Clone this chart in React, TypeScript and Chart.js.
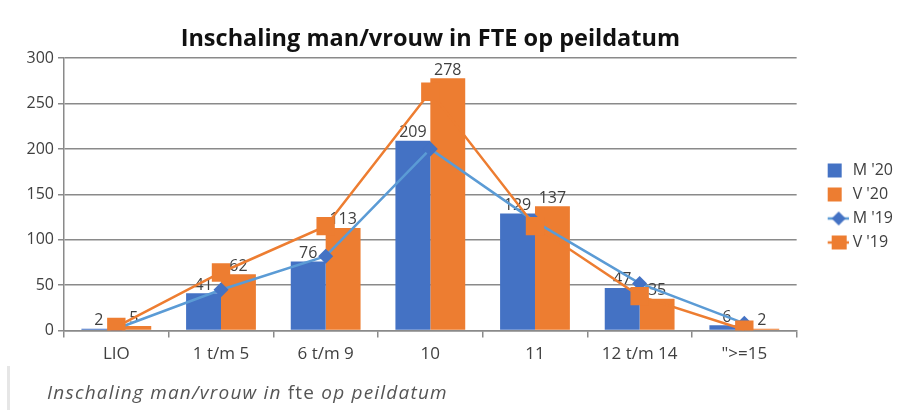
import React, { useEffect, useRef } from 'react';
import { Chart, registerables } from 'chart.js';

Chart.register(...registerables);

const categories = ['LIO', '1 t/m 5', '6 t/m 9', '10', '11', '12 t/m 14', '">=15'];
const m20 = [2, 41, 76, 209, 129, 47, 6];
const v20 = [5, 62, 113, 278, 137, 35, 2];
const m19 = [2, 45, 82, 200, 120, 52, 8];
const v19 = [4, 64, 115, 263, 115, 38, 1];
const seriesNames = ["M '20", "V '20", "M '19", "V '19"];
const yMin = 0;
const yMax = 300;
const yStep = 50;

const BLUE = '#4472C4';
const ORANGE = '#ED7D31';
const LIGHTBLUE = '#5B9BD5';
const GRID = '#8a8a8a';
const TEXT = '#404040';
const FONT = '"Open Sans", "Noto Sans", sans-serif';

function makeIcon(kind: string): HTMLCanvasElement {
  const c = document.createElement('canvas');
  c.width = 48;
  c.height = 18;
  const ctx = c.getContext('2d') as CanvasRenderingContext2D;
  const cy = 9;
  if (kind === 'm20' || kind === 'v20') {
    ctx.fillStyle = kind === 'm20' ? BLUE : ORANGE;
    ctx.fillRect(27, cy - 7, 14, 14);
  } else if (kind === 'm19') {
    ctx.strokeStyle = LIGHTBLUE;
    ctx.lineWidth = 2.5;
    ctx.beginPath();
    ctx.moveTo(27, cy);
    ctx.lineTo(48, cy);
    ctx.stroke();
    ctx.fillStyle = BLUE;
    ctx.beginPath();
    ctx.moveTo(38 - 7, cy);
    ctx.lineTo(38, cy - 7);
    ctx.lineTo(38 + 7, cy);
    ctx.lineTo(38, cy + 7);
    ctx.closePath();
    ctx.fill();
  } else {
    ctx.strokeStyle = ORANGE;
    ctx.lineWidth = 2.5;
    ctx.beginPath();
    ctx.moveTo(27, cy);
    ctx.lineTo(48, cy);
    ctx.stroke();
    ctx.fillStyle = ORANGE;
    ctx.fillRect(31, cy - 7, 15, 14);
  }
  return c;
}

const barLabels = {
  id: 'barLabels',
  afterDatasetDraw(chart: any, args: any) {
    if (args.index !== 0) return;
    const ctx = chart.ctx;
    ctx.save();
    ctx.font = '16px ' + FONT;
    ctx.fillStyle = TEXT;
    ctx.textAlign = 'center';
    ctx.textBaseline = 'alphabetic';
    [0, 1].forEach((di) => {
      const meta = chart.getDatasetMeta(di);
      meta.data.forEach((el: any, i: number) => {
        ctx.fillText(String(chart.data.datasets[di].data[i]), el.x, el.y - 3.5);
      });
    });
    ctx.restore();
  },
};

export default function App() {
  const ref = useRef<HTMLCanvasElement | null>(null);

  useEffect(() => {
    if (!ref.current) return;
    const icons = [makeIcon('m20'), makeIcon('v20'), makeIcon('m19'), makeIcon('v19')];
    const chart = new Chart(ref.current, {
      type: 'bar',
      data: {
        labels: categories,
        datasets: [
          {
            type: 'bar',
            label: seriesNames[0],
            data: m20,
            backgroundColor: BLUE,
            categoryPercentage: 0.667,
            barPercentage: 1.0,
            order: 2,
          },
          {
            type: 'bar',
            label: seriesNames[1],
            data: v20,
            backgroundColor: ORANGE,
            categoryPercentage: 0.667,
            barPercentage: 1.0,
            order: 2,
          },
          {
            type: 'line',
            label: seriesNames[2],
            data: m19,
            borderColor: LIGHTBLUE,
            backgroundColor: BLUE,
            borderWidth: 2.5,
            pointStyle: 'rectRot',
            pointRadius: 7.5,
            pointBorderWidth: 0,
            tension: 0,
            order: 1,
          },
          {
            type: 'line',
            label: seriesNames[3],
            data: v19,
            borderColor: ORANGE,
            backgroundColor: ORANGE,
            borderWidth: 2.5,
            pointStyle: 'rect',
            pointRadius: 13,
            pointBorderWidth: 0,
            tension: 0,
            order: 0,
          },
        ] as any,
      },
      options: {
        responsive: false,
        animation: false,
        devicePixelRatio: 1,
        layout: { padding: { top: 25, right: 5, bottom: 3, left: 0 } },
        plugins: {
          title: {
            display: true,
            text: 'Inschaling man/vrouw in FTE op peildatum',
            fullSize: false,
            color: '#111',
            font: { family: FONT, size: 23.5, weight: 'bold' },
            padding: { top: 0, bottom: 5 },
          },
          legend: {
            position: 'right',
            align: 'center',
            title: { display: true, text: ' ', font: { size: 10 }, padding: 3 },
            labels: {
              usePointStyle: true,
              pointStyleWidth: 40,
              padding: 8,
              color: TEXT,
              font: { family: FONT, size: 16 },
              generateLabels: () =>
                seriesNames.map((n, i) => ({
                  text: n,
                  pointStyle: icons[i] as any,
                  fillStyle: 'rgba(0,0,0,0)',
                  strokeStyle: 'rgba(0,0,0,0)',
                  lineWidth: 0,
                  hidden: false,
                  datasetIndex: i,
                  fontColor: TEXT,
                })),
            },
          },
          tooltip: { enabled: false },
        },
        scales: {
          x: {
            offset: true,
            grid: {
              display: true,
              offset: true,
              drawOnChartArea: false,
              drawTicks: true,
              tickLength: 7,
              color: GRID,
              lineWidth: 1.5,
            },
            border: { display: true, color: GRID, width: 1.5 },
            ticks: { color: TEXT, font: { family: FONT, size: 17 }, padding: 6, maxRotation: 0, autoSkip: false },
          },
          y: {
            min: yMin,
            max: yMax,
            grid: { color: GRID, lineWidth: 1.5, tickLength: 6 },
            border: { display: true, color: GRID, width: 1.5 },
            ticks: { stepSize: yStep, color: TEXT, font: { family: FONT, size: 16 }, padding: 4 },
            afterFit: (scale: any) => {
              scale.width = 64;
            },
          },
        },
      },
      plugins: [barLabels],
    });
    return () => chart.destroy();
  }, []);

  return (
    <div style={{ position: 'absolute', left: 0, top: 0, width: 908, height: 410, background: '#fff', overflow: 'hidden' }}>
      <canvas ref={ref} width={908} height={373} style={{ position: 'absolute', left: 0, top: 0 }} />
      <div
        style={{
          position: 'absolute',
          left: 7,
          top: 366,
          height: 44,
          width: 3,
          background: '#e6e6e6',
        }}
      />
      <div
        style={{
          position: 'absolute',
          left: 47,
          top: 380,
          whiteSpace: 'nowrap',
          fontFamily: FONT,
          fontSize: 19,
          letterSpacing: '1.2px',
          lineHeight: '24px',
          color: '#555',
        }}
      >
        <i>Inschaling man/vrouw in</i> fte <i>op peildatum</i>
      </div>
    </div>
  );
}
